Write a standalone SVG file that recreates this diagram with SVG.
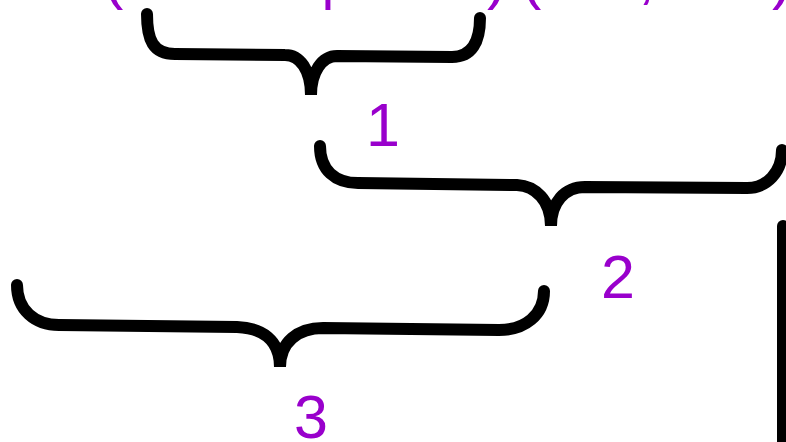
<svg xmlns="http://www.w3.org/2000/svg" width="786" height="442" viewBox="0 0 786 442">
<style>
.brace{fill:none;stroke:#000;stroke-width:12;stroke-linecap:round;stroke-linejoin:bevel}
.lbl{font-family:"Liberation Sans",Arial,sans-serif;font-size:61px;fill:#9900cc}
</style>
<rect width="786" height="442" fill="#fff"/>
<g id="top-text">
<text class="lbl" x="103" y="-3">(</text>
<text class="lbl" x="320" y="-3">|</text>
<text class="lbl" x="487" y="-3">)</text>
<text class="lbl" x="521" y="-3">(</text>
<text class="lbl" x="638" y="-3">,</text>
<text class="lbl" x="772" y="-3">)</text>
</g>
<g id="brace1">
<path class="brace" d="M147,14 C147,40 153,54 175,54 L285,55 C300,55 311,70 311,95 C311,72 322,56 337,56 L452,57 C472,57 480,42 480,18"/>
<text class="lbl" x="366" y="146">1</text>
</g>
<g id="brace2">
<path class="brace" d="M320,146 C320,170 335,183 358,183 L517,185 C535,186 551,200 551,226 C551,202 565,187 585,187 L747,188 C767,188 782,172 782,150"/>
<text class="lbl" x="601" y="298">2</text>
</g>
<g id="brace3">
<path class="brace" d="M17,285 C17,310 35,325 59,325 L237,327 C262,328 280,340 280,367 C280,342 298,328 323,328 L499,330 C525,330 544,315 544,291"/>
<text class="lbl" x="294" y="438">3</text>
</g>
<g id="bar">
<path class="brace" d="M783,226 L783,460"/>
</g>
</svg>
